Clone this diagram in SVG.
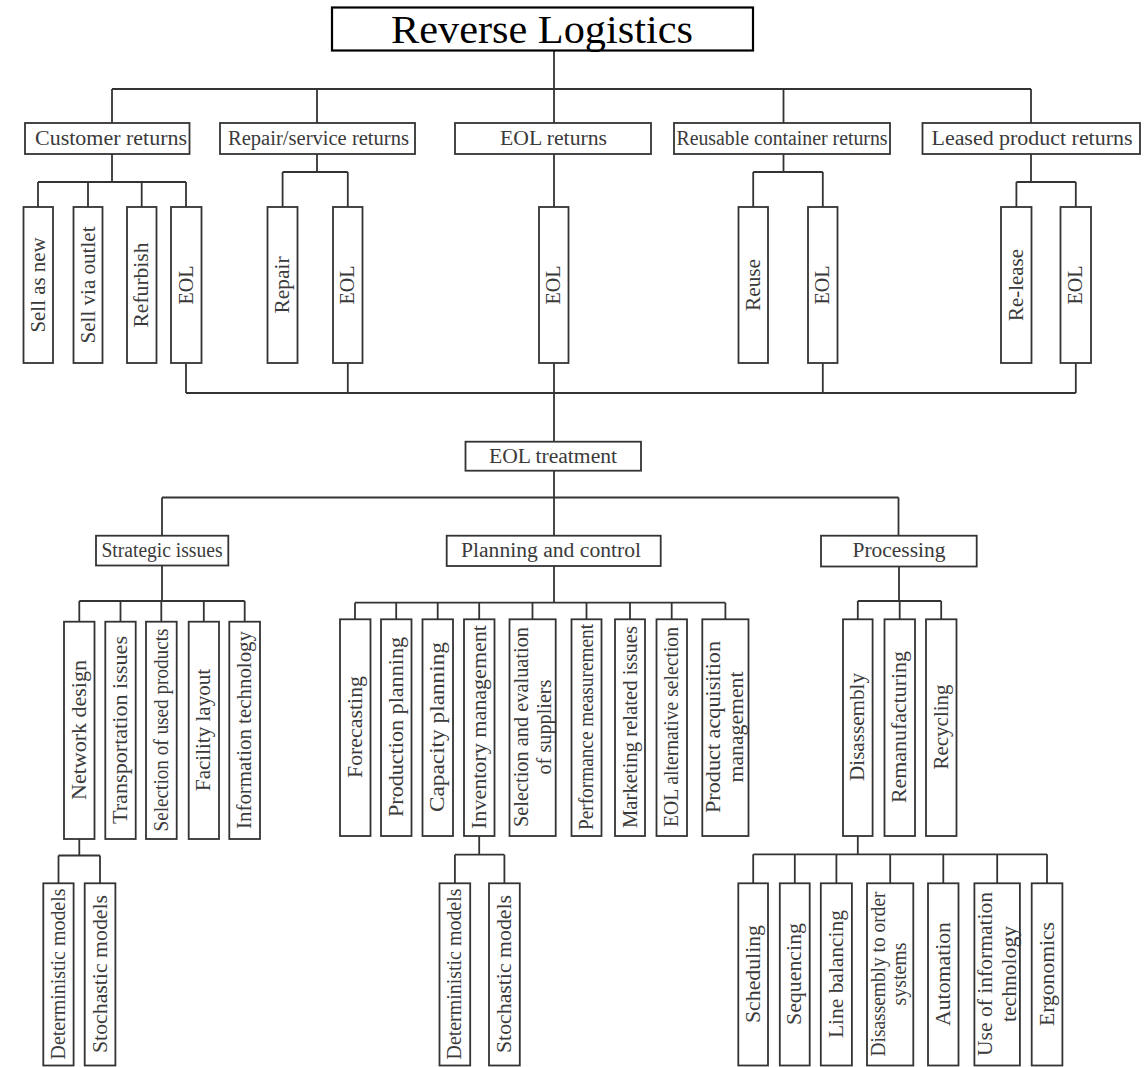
<svg xmlns="http://www.w3.org/2000/svg" width="1148" height="1067" viewBox="0 0 1148 1067">
<style>
.bx{fill:#fff;stroke:#333;stroke-width:1.8}
.ln{fill:none;stroke:#333;stroke-width:1.8}
.t{font-family:"Liberation Serif","Times New Roman",serif;font-size:20px;fill:#3a3a3a;text-anchor:middle}
.tt{font-family:"Liberation Serif","Times New Roman",serif;font-size:40px;fill:#000;text-anchor:middle}
</style>
<rect width="1148" height="1067" fill="#fff"/>
<g id="connectors">
<path class="ln" d="M554 51V123M112 89H1031M112 89V123M317 89V123M783.5 89V123M1031 89V123"/>
<path class="ln" d="M112 154V182M38 182H186M38 182V207M88 182V207M141.7 182V207M186 182V207"/>
<path class="ln" d="M317 154V172M282.6 172H347.8M282.6 172V207M347.8 172V207"/>
<path class="ln" d="M554 154V207"/>
<path class="ln" d="M783.5 154V172M753.2 172H822.8M753.2 172V207M822.8 172V207"/>
<path class="ln" d="M1031 154V182M1016.4 182H1075.8M1016.4 182V207M1075.8 182V207"/>
<path class="ln" d="M186 363V393M347.8 363V393M822.8 363V393M1075.8 363V393M186 393H1075.8M554 363V442"/>
<path class="ln" d="M554 471V536M162 497.5H898.5M162 497.5V536M898.5 497.5V536"/>
<path class="ln" d="M162 565.5V601M79.3 601H244.7M79.3 601V621.7M120.5 601V621.7M161.3 601V621.7M203.8 601V621.7M244.7 601V621.7"/>
<path class="ln" d="M79.3 839V855.5M58.5 855.5H100M58.5 855.5V883.3M100 855.5V883.3"/>
<path class="ln" d="M554 566V602.7M355 602.7H725.4M355 602.7V619.3M396.2 602.7V619.3M437.7 602.7V619.3M479.2 602.7V619.3M532.5 602.7V619.3M586.5 602.7V619.3M630 602.7V619.3M671.7 602.7V619.3M725.4 602.7V619.3"/>
<path class="ln" d="M479.2 836V854.7M454.9 854.7H504.4M454.9 854.7V883.3M504.4 854.7V883.3"/>
<path class="ln" d="M899 566.5V601M857.8 601H941.2M857.8 601V619.3M899.7 601V619.3M941.2 601V619.3"/>
<path class="ln" d="M857.8 836V854.3M753.2 854.3H1047M753.2 854.3V883.3M794.8 854.3V883.3M836.4 854.3V883.3M890.2 854.3V883.3M943.3 854.3V883.3M997.2 854.3V883.3M1047 854.3V883.3"/>
</g>
<g id="n-title"><rect x="332" y="7.5" width="421" height="43" fill="#fff" stroke="#000" stroke-width="2.2"/><text class="tt" x="542" y="42.5" textLength="302" lengthAdjust="spacingAndGlyphs">Reverse Logistics</text></g>
<g id="n-customer"><rect class="bx" x="25" y="123" width="164.5" height="31"/><text class="t" x="111" y="144.5" textLength="152" lengthAdjust="spacingAndGlyphs">Customer returns</text></g>
<g id="n-repair-returns"><rect class="bx" x="220" y="123" width="195" height="31"/><text class="t" x="318.5" y="144.5" textLength="181" lengthAdjust="spacingAndGlyphs">Repair/service returns</text></g>
<g id="n-eol-returns"><rect class="bx" x="455" y="123" width="196" height="31"/><text class="t" x="553.5" y="144.5" textLength="107" lengthAdjust="spacingAndGlyphs">EOL returns</text></g>
<g id="n-reusable"><rect class="bx" x="674" y="123" width="216" height="31"/><text class="t" x="782" y="144.5" textLength="211" lengthAdjust="spacingAndGlyphs">Reusable container returns</text></g>
<g id="n-leased"><rect class="bx" x="922.5" y="123" width="217.5" height="31"/><text class="t" x="1032" y="144.5" textLength="201" lengthAdjust="spacingAndGlyphs">Leased product returns</text></g>

<g id="n-sell-new"><rect class="bx" x="23.5" y="207" width="29.5" height="156"/><text class="t" transform="translate(44.8 285) rotate(-90)" textLength="95" lengthAdjust="spacingAndGlyphs">Sell as new</text></g>
<g id="n-sell-outlet"><rect class="bx" x="73.5" y="207" width="29" height="156"/><text class="t" transform="translate(94.5 285) rotate(-90)" textLength="117" lengthAdjust="spacingAndGlyphs">Sell via outlet</text></g>
<g id="n-refurbish"><rect class="bx" x="127" y="207" width="29.5" height="156"/><text class="t" transform="translate(148.2 285) rotate(-90)" textLength="85" lengthAdjust="spacingAndGlyphs">Refurbish</text></g>
<g id="n-eol-1"><rect class="bx" x="171" y="207" width="30.5" height="156"/><text class="t" transform="translate(192.5 285) rotate(-90)" textLength="39" lengthAdjust="spacingAndGlyphs">EOL</text></g>
<g id="n-repair"><rect class="bx" x="267.5" y="207" width="30" height="156"/><text class="t" transform="translate(289 285) rotate(-90)" textLength="57" lengthAdjust="spacingAndGlyphs">Repair</text></g>
<g id="n-eol-2"><rect class="bx" x="333" y="207" width="29.5" height="156"/><text class="t" transform="translate(354.3 285) rotate(-90)" textLength="39" lengthAdjust="spacingAndGlyphs">EOL</text></g>
<g id="n-eol-3"><rect class="bx" x="539" y="207" width="29.5" height="156"/><text class="t" transform="translate(560.3 285) rotate(-90)" textLength="39" lengthAdjust="spacingAndGlyphs">EOL</text></g>
<g id="n-reuse"><rect class="bx" x="738.5" y="207" width="29.5" height="156"/><text class="t" transform="translate(759.7 285) rotate(-90)" textLength="52" lengthAdjust="spacingAndGlyphs">Reuse</text></g>
<g id="n-eol-4"><rect class="bx" x="808" y="207" width="29.5" height="156"/><text class="t" transform="translate(829.3 285) rotate(-90)" textLength="39" lengthAdjust="spacingAndGlyphs">EOL</text></g>
<g id="n-release"><rect class="bx" x="1001" y="207" width="30.5" height="156"/><text class="t" transform="translate(1022.7 285) rotate(-90)" textLength="72" lengthAdjust="spacingAndGlyphs">Re-lease</text></g>
<g id="n-eol-5"><rect class="bx" x="1060.5" y="207" width="30.5" height="156"/><text class="t" transform="translate(1082.2 285) rotate(-90)" textLength="39" lengthAdjust="spacingAndGlyphs">EOL</text></g>

<g id="n-eol-treatment"><rect class="bx" x="465.5" y="441.7" width="175.5" height="29"/><text class="t" x="553" y="462.5" textLength="128" lengthAdjust="spacingAndGlyphs">EOL treatment</text></g>
<g id="n-strategic"><rect class="bx" x="96" y="535.7" width="132.3" height="29.8"/><text class="t" x="162" y="556.5" textLength="121" lengthAdjust="spacingAndGlyphs">Strategic issues</text></g>
<g id="n-planning"><rect class="bx" x="446.7" y="535.7" width="214" height="30.3"/><text class="t" x="551" y="556.5" textLength="180" lengthAdjust="spacingAndGlyphs">Planning and control</text></g>
<g id="n-processing"><rect class="bx" x="821" y="535.7" width="155.7" height="30.8"/><text class="t" x="899" y="556.5" textLength="93" lengthAdjust="spacingAndGlyphs">Processing</text></g>

<g id="n-network"><rect class="bx" x="64" y="621.7" width="30.5" height="217.3"/><text class="t" transform="translate(85.8 730) rotate(-90)" textLength="140" lengthAdjust="spacingAndGlyphs">Network design</text></g>
<g id="n-transport"><rect class="bx" x="105.3" y="621.7" width="30.4" height="217.3"/><text class="t" transform="translate(127 730) rotate(-90)" textLength="188" lengthAdjust="spacingAndGlyphs">Transportation issues</text></g>
<g id="n-selection-used"><rect class="bx" x="146" y="621.7" width="30.7" height="217.3"/><text class="t" transform="translate(167.8 730) rotate(-90)" textLength="203" lengthAdjust="spacingAndGlyphs">Selection of used products</text></g>
<g id="n-facility"><rect class="bx" x="188.7" y="621.7" width="30.3" height="217.3"/><text class="t" transform="translate(210.3 730) rotate(-90)" textLength="122" lengthAdjust="spacingAndGlyphs">Facility layout</text></g>
<g id="n-infotech"><rect class="bx" x="229.3" y="621.7" width="30.7" height="217.3"/><text class="t" transform="translate(251.2 730) rotate(-90)" textLength="198" lengthAdjust="spacingAndGlyphs">Information technology</text></g>
<g id="n-det-1"><rect class="bx" x="43.3" y="883.3" width="30.3" height="182.2"/><text class="t" transform="translate(65 974) rotate(-90)" textLength="171" lengthAdjust="spacingAndGlyphs">Deterministic models</text></g>
<g id="n-stoch-1"><rect class="bx" x="84.7" y="883.3" width="30.7" height="182.2"/><text class="t" transform="translate(106.5 974) rotate(-90)" textLength="158" lengthAdjust="spacingAndGlyphs">Stochastic models</text></g>

<g id="n-forecasting"><rect class="bx" x="340" y="619.3" width="30.5" height="216.7"/><text class="t" transform="translate(361.7 727) rotate(-90)" textLength="102" lengthAdjust="spacingAndGlyphs">Forecasting</text></g>
<g id="n-production"><rect class="bx" x="381" y="619.3" width="30.5" height="216.7"/><text class="t" transform="translate(402.7 727) rotate(-90)" textLength="180" lengthAdjust="spacingAndGlyphs">Production planning</text></g>
<g id="n-capacity"><rect class="bx" x="422.5" y="619.3" width="30.5" height="216.7"/><text class="t" transform="translate(444.2 727) rotate(-90)" textLength="170" lengthAdjust="spacingAndGlyphs">Capacity planning</text></g>
<g id="n-inventory"><rect class="bx" x="464" y="619.3" width="30.5" height="216.7"/><text class="t" transform="translate(485.7 727) rotate(-90)" textLength="204" lengthAdjust="spacingAndGlyphs">Inventory management</text></g>
<g id="n-suppliers"><rect class="bx" x="509.5" y="619.3" width="46.2" height="216.7"/><text class="t" transform="translate(527.5 727) rotate(-90)" textLength="200" lengthAdjust="spacingAndGlyphs">Selection and evaluation</text><text class="t" transform="translate(550.5 727) rotate(-90)" textLength="95" lengthAdjust="spacingAndGlyphs">of suppliers</text></g>
<g id="n-performance"><rect class="bx" x="571.5" y="619.3" width="30" height="216.7"/><text class="t" transform="translate(593 727) rotate(-90)" textLength="206" lengthAdjust="spacingAndGlyphs">Performance measurement</text></g>
<g id="n-marketing"><rect class="bx" x="615" y="619.3" width="30" height="216.7"/><text class="t" transform="translate(636.5 727) rotate(-90)" textLength="202" lengthAdjust="spacingAndGlyphs">Marketing related issues</text></g>
<g id="n-eol-alt"><rect class="bx" x="656.5" y="619.3" width="30.5" height="216.7"/><text class="t" transform="translate(678.2 727) rotate(-90)" textLength="200" lengthAdjust="spacingAndGlyphs">EOL alternative selection</text></g>
<g id="n-acquisition"><rect class="bx" x="702.3" y="619.3" width="46.2" height="216.7"/><text class="t" transform="translate(719.5 727) rotate(-90)" textLength="172" lengthAdjust="spacingAndGlyphs">Product acquisition</text><text class="t" transform="translate(742.5 727) rotate(-90)" textLength="111" lengthAdjust="spacingAndGlyphs">management</text></g>
<g id="n-det-2"><rect class="bx" x="439.5" y="883.3" width="30.7" height="182.2"/><text class="t" transform="translate(461.3 974) rotate(-90)" textLength="171" lengthAdjust="spacingAndGlyphs">Deterministic models</text></g>
<g id="n-stoch-2"><rect class="bx" x="489" y="883.3" width="30.8" height="182.2"/><text class="t" transform="translate(510.9 974) rotate(-90)" textLength="158" lengthAdjust="spacingAndGlyphs">Stochastic models</text></g>

<g id="n-disassembly"><rect class="bx" x="843" y="619.3" width="29.6" height="216.7"/><text class="t" transform="translate(864.3 727) rotate(-90)" textLength="108" lengthAdjust="spacingAndGlyphs">Disassembly</text></g>
<g id="n-reman"><rect class="bx" x="884.5" y="619.3" width="30.5" height="216.7"/><text class="t" transform="translate(906.2 727) rotate(-90)" textLength="152" lengthAdjust="spacingAndGlyphs">Remanufacturing</text></g>
<g id="n-recycling"><rect class="bx" x="926" y="619.3" width="30.5" height="216.7"/><text class="t" transform="translate(947.7 727) rotate(-90)" textLength="85" lengthAdjust="spacingAndGlyphs">Recycling</text></g>
<g id="n-scheduling"><rect class="bx" x="738.3" y="883.3" width="29.7" height="182.2"/><text class="t" transform="translate(759.6 974) rotate(-90)" textLength="98" lengthAdjust="spacingAndGlyphs">Scheduling</text></g>
<g id="n-sequencing"><rect class="bx" x="779.8" y="883.3" width="29.9" height="182.2"/><text class="t" transform="translate(801.2 974) rotate(-90)" textLength="102" lengthAdjust="spacingAndGlyphs">Sequencing</text></g>
<g id="n-line-balancing"><rect class="bx" x="820.8" y="883.3" width="31.1" height="182.2"/><text class="t" transform="translate(842.8 974) rotate(-90)" textLength="128" lengthAdjust="spacingAndGlyphs">Line balancing</text></g>
<g id="n-d2o"><rect class="bx" x="867" y="883.3" width="46.3" height="182.2"/><text class="t" transform="translate(884.5 974) rotate(-90)" textLength="165" lengthAdjust="spacingAndGlyphs">Disassembly to order</text><text class="t" transform="translate(906 974) rotate(-90)" textLength="63" lengthAdjust="spacingAndGlyphs">systems</text></g>
<g id="n-automation"><rect class="bx" x="928" y="883.3" width="30.5" height="182.2"/><text class="t" transform="translate(949.7 974) rotate(-90)" textLength="104" lengthAdjust="spacingAndGlyphs">Automation</text></g>
<g id="n-use-it"><rect class="bx" x="974.4" y="883.3" width="45.5" height="182.2"/><text class="t" transform="translate(992.3 974) rotate(-90)" textLength="164" lengthAdjust="spacingAndGlyphs">Use of information</text><text class="t" transform="translate(1016 974) rotate(-90)" textLength="96" lengthAdjust="spacingAndGlyphs">technology</text></g>
<g id="n-ergonomics"><rect class="bx" x="1031.7" y="883.3" width="30.7" height="182.2"/><text class="t" transform="translate(1053.5 974) rotate(-90)" textLength="104" lengthAdjust="spacingAndGlyphs">Ergonomics</text></g>
</svg>
